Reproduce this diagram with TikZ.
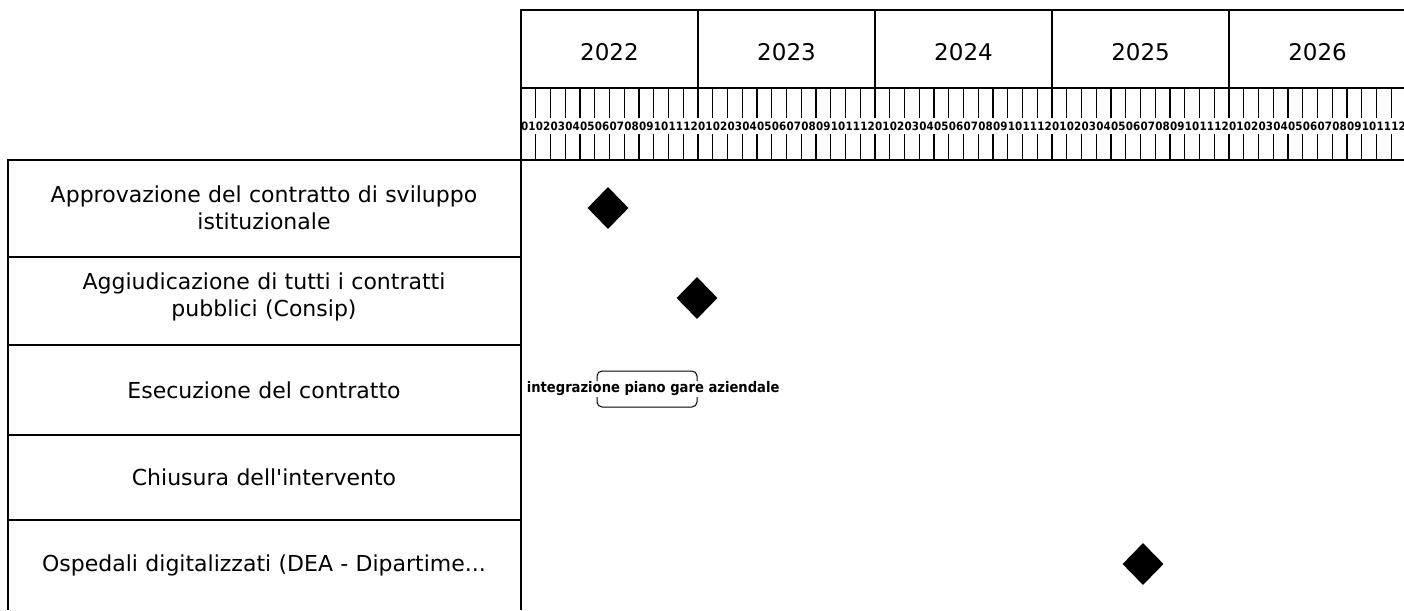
\documentclass[tikz,border=0pt]{standalone}
\usepackage{fontspec}
\setmainfont{DejaVu Sans}[Ligatures=TeXOff]
\newfontfamily\condfont{DejaVu Sans Condensed}
\usetikzlibrary{shapes.geometric}
\begin{document}
\begin{tikzpicture}[x=1pt,y=-1pt,
  gridline/.style={line width=1.1pt, black},
  rowlabel/.style={font=\fontsize{22}{27}\selectfont, align=center, text width=500pt, inner sep=0pt},
  yearlabel/.style={font=\fontsize{23}{26}\selectfont, inner sep=0pt},
  monthlabel/.style={font=\condfont\bfseries\fontsize{11.5}{11.5}\selectfont, inner sep=0pt},
  milestone/.style={diamond, fill=black, minimum width=41pt, minimum height=42pt, inner sep=0pt},
  bartext/.style={font=\condfont\bfseries\fontsize{14.6}{14.6}\selectfont, fill=white, inner sep=0.6pt, anchor=west},
  markbox/.style={draw, rounded corners=5pt, line width=1pt}]
\useasboundingbox (0,0) rectangle (1404,610);
% header frame
\draw[gridline] (1404,10) -- (521,10) -- (521,610);
\draw[gridline] (521,88) -- (1404,88);
\draw[gridline] (521,160) -- (1404,160);
% year cells
\foreach \i/\yr in {0/2022,1/2023,2/2024,3/2025,4/2026}{
  \pgfmathsetmacro\xa{521+\i*177}
  \draw[gridline] (\xa,10) -- (\xa,88);
  \node[yearlabel] (y\yr) at (\xa+88.5,52) {\yr};
}
% month cells
\foreach \i in {0,...,59}{
  \pgfmathsetmacro\xl{521+\i*14.75}
  \pgfmathtruncatemacro\mm{mod(\i,12)+1}
  \draw[gridline] (\xl,88) -- (\xl,118);
  \draw[gridline] (\xl,134) -- (\xl,160);
  \node[monthlabel] (m\i) at (\xl+7.375,126) {\ifnum\mm<10 0\fi\mm};
}
% task table
\draw[gridline] (521,160) -- (8,160) -- (8,610);
\foreach \yy in {257,345,435,520}{
  \draw[gridline] (8,\yy) -- (521,\yy);
}
\node[rowlabel] (t1) at (264,208) {Approvazione del contratto di sviluppo\\istituzionale};
\node[rowlabel] (t2) at (264,297) {Aggiudicazione di tutti i contratti\\pubblici (Consip)};
\node[rowlabel] (t3) at (264,390) {Esecuzione del contratto};
\node[rowlabel] (t4) at (264,477) {Chiusura dell'intervento};
\node[rowlabel] (t5) at (264,565) {Ospedali digitalizzati (DEA - Dipartime...};
% milestones
\node[milestone] (d1) at (608,208) {};
\node[milestone] (d2) at (697,298) {};
\node[milestone] (d5) at (1143,564) {};
% activity
\draw[markbox] (597,371) rectangle (697,407);
\node[bartext] (bar3) at (526,389) {integrazione piano gare aziendale};
\end{tikzpicture}
\end{document}
